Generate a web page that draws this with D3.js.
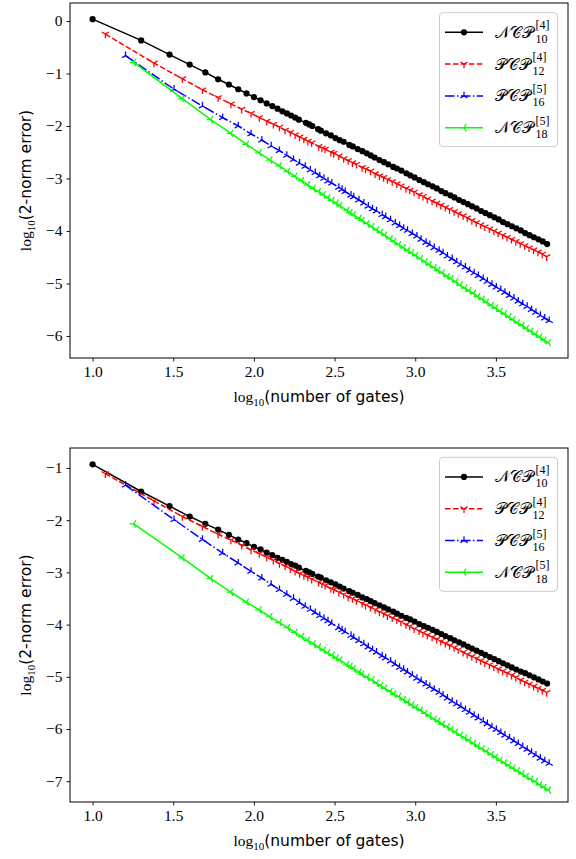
<!DOCTYPE html>
<html><head><meta charset="utf-8">
<script src="https://cdn.jsdelivr.net/npm/d3@7"></script>
<style>html,body{margin:0;padding:0;background:#fff;} svg{display:block;}</style>
</head><body>
<svg id="chart" width="576" height="859"></svg>
<script>
// number of time steps (shared); x = log10(gatesPerStep * steps)
const steps = [1,2,3,4,5,6,7,8,9,10,11,12,13,14,15,16,17,18,19,21,22,23,25,26,28,30,32,34,36,39,41,44,47,50,53,56,60,64,68,73,77,82,88,93,99,106,113,120,128,136,145,154,165,175,187,199,212,225,240,256,272,290,309,329,350,373,397,423,451,480,511,544,580,617,657];
const gatesPerStep = [10, 12, 16, 18];
const labelMain = ["𝒩𝒞𝒫", "𝒫𝒞𝒫", "𝒫𝒞𝒫", "𝒩𝒞𝒫"];
const labelSup = ["[4]", "[4]", "[5]", "[5]"];
const labelSub = ["10", "12", "16", "18"];
const xTicks = [1.0, 1.5, 2.0, 2.5, 3.0, 3.5];
const topYTicks = [0, -1, -2, -3, -4, -5, -6];
const botYTicks = [-1, -2, -3, -4, -5, -6, -7];

// log10(2-norm error), top panel
const topNCP10 = [0.035,-0.37,-0.64,-0.83,-0.98,-1.11,-1.21,-1.30,-1.38,-1.45,-1.51,-1.57,-1.62,-1.67,-1.72,-1.76,-1.80,-1.84,-1.88,-1.94,-1.97,-2.00,-2.06,-2.09,-2.14,-2.18,-2.23,-2.27,-2.30,-2.36,-2.39,-2.44,-2.48,-2.52,-2.56,-2.60,-2.65,-2.69,-2.73,-2.78,-2.81,-2.85,-2.90,-2.94,-2.98,-3.03,-3.07,-3.11,-3.15,-3.19,-3.24,-3.28,-3.32,-3.36,-3.41,-3.45,-3.49,-3.53,-3.57,-3.62,-3.66,-3.70,-3.74,-3.78,-3.83,-3.87,-3.91,-3.95,-3.99,-4.04,-4.08,-4.12,-4.16,-4.20,-4.25];
const topPCP12 = [-0.25,-0.80,-1.10,-1.31,-1.46,-1.58,-1.68,-1.76,-1.84,-1.91,-1.97,-2.02,-2.08,-2.12,-2.17,-2.21,-2.25,-2.29,-2.32,-2.39,-2.42,-2.44,-2.50,-2.52,-2.57,-2.62,-2.66,-2.70,-2.73,-2.79,-2.82,-2.86,-2.91,-2.95,-2.98,-3.02,-3.06,-3.10,-3.14,-3.19,-3.22,-3.26,-3.31,-3.34,-3.39,-3.43,-3.47,-3.51,-3.55,-3.59,-3.63,-3.67,-3.71,-3.75,-3.80,-3.84,-3.88,-3.92,-3.96,-4.00,-4.04,-4.08,-4.12,-4.16,-4.20,-4.24,-4.28,-4.32,-4.36,-4.40,-4.44,-4.49];
const topPCP16 = [-0.66,-1.30,-1.62,-1.84,-2.00,-2.15,-2.27,-2.38,-2.47,-2.56,-2.64,-2.71,-2.77,-2.84,-2.89,-2.95,-3.00,-3.05,-3.09,-3.17,-3.21,-3.25,-3.32,-3.35,-3.41,-3.47,-3.53,-3.58,-3.62,-3.69,-3.73,-3.79,-3.85,-3.90,-3.95,-3.99,-4.05,-4.10,-4.16,-4.22,-4.26,-4.32,-4.37,-4.42,-4.48,-4.53,-4.59,-4.64,-4.69,-4.75,-4.80,-4.85,-4.91,-4.96,-5.02,-5.07,-5.12,-5.17,-5.23,-5.28,-5.34,-5.39,-5.44,-5.50,-5.55,-5.61,-5.66,-5.71];
const topNCP18 = [-0.79,-1.48,-1.88,-2.14,-2.35,-2.51,-2.65,-2.76,-2.87,-2.96,-3.04,-3.12,-3.19,-3.25,-3.31,-3.37,-3.42,-3.47,-3.52,-3.61,-3.65,-3.69,-3.76,-3.80,-3.86,-3.92,-3.98,-4.03,-4.08,-4.15,-4.20,-4.26,-4.32,-4.37,-4.42,-4.47,-4.53,-4.59,-4.64,-4.70,-4.75,-4.80,-4.87,-4.91,-4.97,-5.03,-5.09,-5.14,-5.19,-5.25,-5.30,-5.36,-5.42,-5.47,-5.53,-5.58,-5.64,-5.69,-5.75,-5.80,-5.86,-5.91,-5.97,-6.02,-6.08,-6.13];

// log10(2-norm error), bottom panel
const botNCP10 = [-0.93,-1.45,-1.73,-1.93,-2.07,-2.18,-2.28,-2.37,-2.44,-2.51,-2.56,-2.62,-2.67,-2.72,-2.76,-2.80,-2.84,-2.87,-2.91,-2.97,-3.00,-3.03,-3.08,-3.10,-3.15,-3.19,-3.23,-3.27,-3.31,-3.36,-3.39,-3.43,-3.48,-3.51,-3.55,-3.59,-3.63,-3.67,-3.71,-3.75,-3.79,-3.83,-3.87,-3.90,-3.94,-3.99,-4.03,-4.06,-4.10,-4.14,-4.18,-4.22,-4.26,-4.30,-4.34,-4.38,-4.42,-4.46,-4.50,-4.54,-4.58,-4.62,-4.66,-4.70,-4.74,-4.78,-4.82,-4.86,-4.90,-4.93,-4.97,-5.01,-5.05,-5.09,-5.13];
const botPCP12 = [-1.11,-1.63,-1.93,-2.12,-2.27,-2.38,-2.48,-2.57,-2.64,-2.71,-2.77,-2.83,-2.88,-2.93,-2.98,-3.02,-3.06,-3.09,-3.13,-3.19,-3.22,-3.25,-3.31,-3.33,-3.38,-3.42,-3.47,-3.50,-3.54,-3.59,-3.63,-3.67,-3.71,-3.76,-3.79,-3.83,-3.87,-3.91,-3.95,-4.00,-4.03,-4.08,-4.12,-4.16,-4.20,-4.24,-4.28,-4.32,-4.36,-4.40,-4.44,-4.48,-4.53,-4.57,-4.61,-4.65,-4.69,-4.73,-4.77,-4.81,-4.85,-4.89,-4.93,-4.97,-5.01,-5.06,-5.10,-5.14,-5.18,-5.22,-5.26,-5.30];
const botPCP16 = [-1.33,-1.99,-2.37,-2.63,-2.82,-2.98,-3.11,-3.23,-3.33,-3.42,-3.50,-3.58,-3.65,-3.71,-3.77,-3.83,-3.88,-3.93,-3.98,-4.06,-4.10,-4.14,-4.21,-4.25,-4.31,-4.37,-4.43,-4.48,-4.53,-4.60,-4.64,-4.70,-4.76,-4.82,-4.86,-4.91,-4.97,-5.03,-5.08,-5.14,-5.19,-5.24,-5.30,-5.35,-5.41,-5.47,-5.52,-5.57,-5.63,-5.68,-5.74,-5.79,-5.85,-5.90,-5.96,-6.01,-6.07,-6.12,-6.17,-6.23,-6.28,-6.34,-6.39,-6.45,-6.50,-6.56,-6.61,-6.66];
const botNCP18 = [-2.07,-2.72,-3.12,-3.38,-3.57,-3.72,-3.85,-3.96,-4.06,-4.15,-4.23,-4.30,-4.37,-4.43,-4.49,-4.54,-4.59,-4.64,-4.68,-4.77,-4.80,-4.84,-4.91,-4.95,-5.01,-5.06,-5.12,-5.17,-5.22,-5.28,-5.33,-5.38,-5.44,-5.49,-5.54,-5.59,-5.64,-5.70,-5.75,-5.81,-5.85,-5.91,-5.96,-6.01,-6.06,-6.12,-6.17,-6.22,-6.28,-6.33,-6.38,-6.43,-6.49,-6.54,-6.60,-6.65,-6.70,-6.75,-6.80,-6.86,-6.91,-6.96,-7.01,-7.07,-7.12,-7.17];

const xLimits = [0.86, 3.947];
const topYLimits = [-6.42, 0.343];
const botYLimits = [-7.398, -0.617];

// ---------- styling ----------
const colors = ["#000000", "#ff0000", "#0000ff", "#00ff00"];
const dashes = [null, "5.55,2.4", "9.6,2.4,1.5,2.4", null];
const markerTypes = ["circle", "tri_down", "tri_up", "tri_left"];
const plotLeft = 70, plotRight = 568;
const serif = "'Liberation Serif', 'DejaVu Serif', serif";
const sans = "'DejaVu Sans', sans-serif";

const svg = d3.select("#chart");

function triPath(type, r) {
  const a = 0.866 * r, b = 0.5 * r;
  if (type === "tri_down") return `M0,0L0,${r}M0,0L${-a},${-b}M0,0L${a},${-b}`;
  if (type === "tri_up") return `M0,0L0,${-r}M0,0L${-a},${b}M0,0L${a},${b}`;
  return `M0,0L${-r},0M0,0L${b},${-a}M0,0L${b},${a}`;
}
function drawMarker(g, type, color, cx, cy) {
  if (type === "circle") {
    g.append("circle").attr("cx", cx).attr("cy", cy).attr("r", 3.1).attr("fill", color);
  } else {
    g.append("path").attr("transform", `translate(${cx},${cy})`).attr("d", triPath(type, 4.2))
      .attr("fill", "none").attr("stroke", color).attr("stroke-width", 1.25);
  }
}

const panels = [
  { top: 3, bottom: 358, yLimits: topYLimits, yTicks: topYTicks,
    errs: [topNCP10, topPCP12, topPCP16, topNCP18], legendTop: 12.7 },
  { top: 448, bottom: 802, yLimits: botYLimits, yTicks: botYTicks,
    errs: [botNCP10, botPCP12, botPCP16, botNCP18], legendTop: 457.3 }
];

panels.forEach(p => {
  const x = d3.scaleLinear().domain(xLimits).range([plotLeft, plotRight]);
  const y = d3.scaleLinear().domain(p.yLimits).range([p.bottom, p.top]);

  const gData = svg.append("g");
  p.errs.forEach((err, k) => {
    const pts = err.map((e, i) => [Math.log10(gatesPerStep[k] * steps[i]), e]);
    const path = gData.append("path").datum(pts)
      .attr("d", d3.line().x(d => x(d[0])).y(d => y(d[1])))
      .attr("fill", "none").attr("stroke", colors[k]).attr("stroke-width", 1.5)
      .attr("stroke-linejoin", "round");
    if (dashes[k]) path.attr("stroke-dasharray", dashes[k]);
    pts.forEach(d => drawMarker(gData, markerTypes[k], colors[k], x(d[0]), y(d[1])));
  });

  // axes
  const xa = svg.append("g").attr("transform", `translate(0,${p.bottom})`)
    .call(d3.axisBottom(x).tickValues(xTicks).tickFormat(d3.format(".1f")).tickSize(3.5).tickPadding(4));
  const ya = svg.append("g").attr("transform", `translate(${plotLeft},0)`)
    .call(d3.axisLeft(y).tickValues(p.yTicks).tickFormat(d => d === 0 ? "0" : "\u2212" + Math.abs(d)).tickSize(3.5).tickPadding(4));
  [xa, ya].forEach(a => {
    a.select(".domain").remove();
    a.selectAll("line").attr("stroke", "#000").attr("stroke-width", 0.9);
    a.selectAll("text").attr("font-family", serif).attr("font-size", 15.5).attr("fill", "#000");
  });

  // frame
  svg.append("rect").attr("x", plotLeft).attr("y", p.top)
    .attr("width", plotRight - plotLeft).attr("height", p.bottom - p.top)
    .attr("fill", "none").attr("stroke", "#000").attr("stroke-width", 1);

  // x label
  const xl = svg.append("text").attr("x", (plotLeft + plotRight) / 2).attr("y", p.bottom + 44)
    .attr("text-anchor", "middle").attr("font-size", 15.5).attr("fill", "#000");
  xl.append("tspan").attr("font-family", serif).text("log");
  xl.append("tspan").attr("font-family", serif).attr("font-size", 11).attr("dy", 4).text("10");
  xl.append("tspan").attr("font-family", sans).attr("dy", -4).text("(number of gates)");

  // y label
  const cy = (p.top + p.bottom) / 2;
  const yl = svg.append("text").attr("transform", `translate(31,${cy}) rotate(-90)`)
    .attr("text-anchor", "middle").attr("font-size", 15.5).attr("fill", "#000");
  yl.append("tspan").attr("font-family", serif).text("log");
  yl.append("tspan").attr("font-family", serif).attr("font-size", 11).attr("dy", 4).text("10");
  yl.append("tspan").attr("font-family", sans).attr("dy", -4).text("(2-norm error)");

  // legend
  const lg = svg.append("g");
  lg.append("rect").attr("x", 439.5).attr("y", p.legendTop).attr("width", 118).attr("height", 134)
    .attr("rx", 3.5).attr("fill", "#fff").attr("fill-opacity", 0.8)
    .attr("stroke", "#cccccc").attr("stroke-width", 1);
  colors.forEach((c, k) => {
    const ry = p.legendTop + 19.6 + k * 31.8;
    const hl = lg.append("line").attr("x1", 445).attr("x2", 483).attr("y1", ry).attr("y2", ry)
      .attr("stroke", c).attr("stroke-width", 1.5);
    if (dashes[k]) hl.attr("stroke-dasharray", dashes[k]);
    drawMarker(lg, markerTypes[k], c, 464, ry);
    const t = lg.append("text").attr("x", 495).attr("y", ry + 5.5)
      .attr("font-family", serif).attr("font-size", 16).attr("fill", "#000").text(labelMain[k]);
    const w = t.node().getComputedTextLength();
    lg.append("text").attr("x", 495 + w + 1.5).attr("y", ry - 3)
      .attr("font-family", serif).attr("font-size", 12).attr("fill", "#000").text(labelSup[k]);
    lg.append("text").attr("x", 495 + w + 1.5).attr("y", ry + 10.5)
      .attr("font-family", serif).attr("font-size", 12).attr("fill", "#000").text(labelSub[k]);
  });
});
</script>
</body></html>
